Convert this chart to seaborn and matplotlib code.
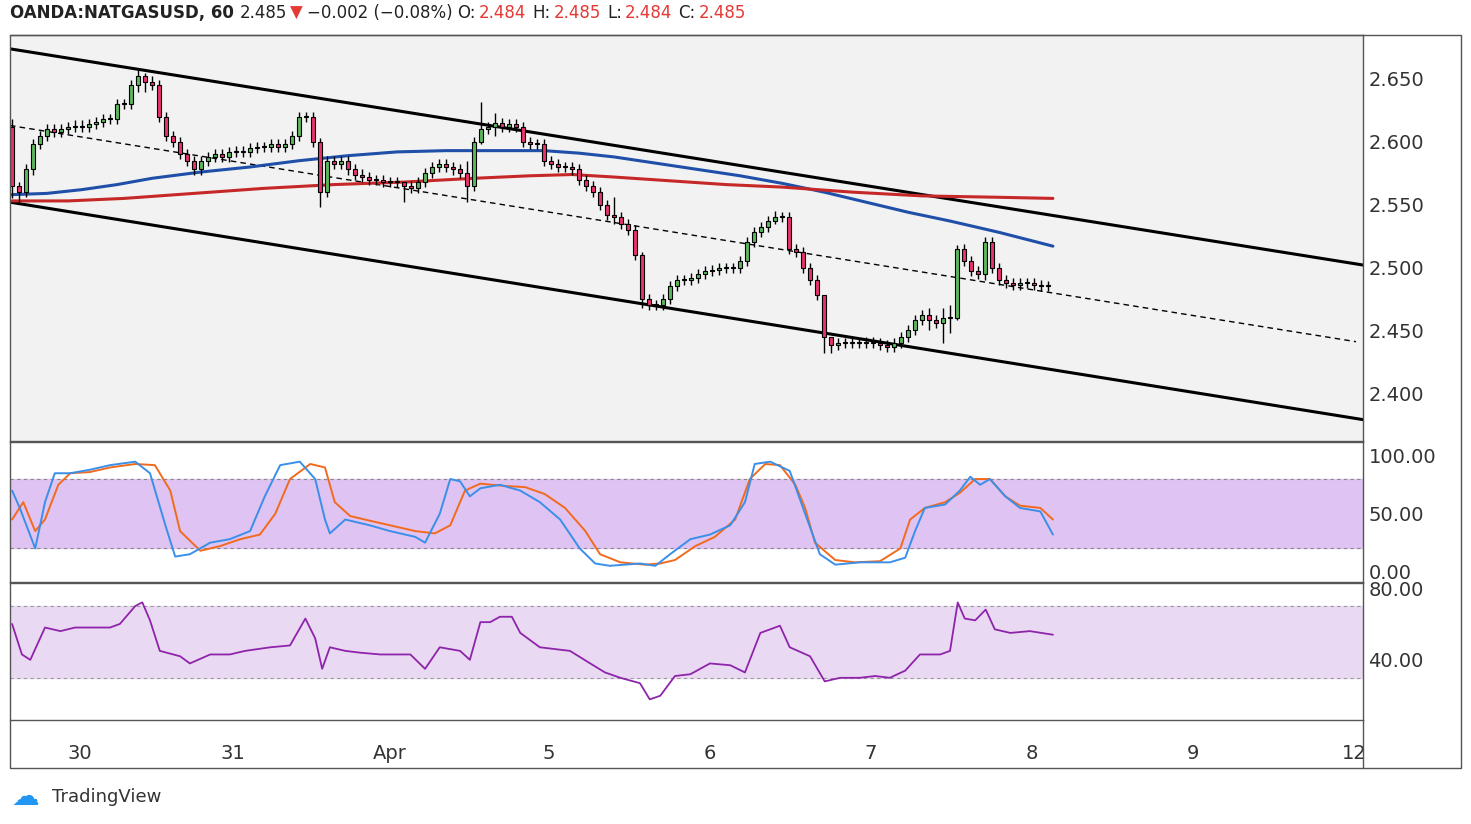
import numpy as np
import pandas as pd
import matplotlib
matplotlib.use("Agg")
import matplotlib.pyplot as plt
import seaborn as sns

sns.set_style("white")
plt.rcParams['font.family'] = ['DejaVu Sans']

first_open = 2.612
closes = [2.565,2.560,2.578,2.598,2.605,2.610,2.608,2.610,2.612,2.613,2.612,2.614,2.616,2.618,2.618,2.630,2.630,2.645,2.652,2.648,
          2.645,2.620,2.605,2.600,2.590,2.585,2.578,2.585,2.588,2.590,2.588,2.592,2.593,2.592,2.595,2.596,2.596,2.598,2.596,2.598,
          2.605,2.620,2.620,2.600,2.560,2.585,2.582,2.585,2.578,2.574,2.572,2.570,2.570,2.568,2.568,2.568,2.565,2.563,2.568,2.575,
          2.580,2.582,2.580,2.578,2.575,2.565,2.600,2.610,2.612,2.615,2.612,2.614,2.612,2.600,2.598,2.598,2.585,2.582,2.580,2.580,
          2.578,2.570,2.565,2.560,2.550,2.542,2.540,2.535,2.530,2.510,2.475,2.470,2.470,2.475,2.485,2.490,2.490,2.492,2.495,2.497,
          2.498,2.500,2.500,2.500,2.505,2.520,2.528,2.532,2.537,2.540,2.540,2.515,2.512,2.500,2.490,2.478,2.445,2.438,2.440,2.440,
          2.440,2.440,2.441,2.440,2.438,2.437,2.440,2.445,2.450,2.458,2.462,2.458,2.456,2.460,2.460,2.515,2.505,2.497,2.495,2.520,
          2.500,2.490,2.488,2.486,2.488,2.488,2.486,2.485,2.485]
big_wicks = {0: (2.618, 2.555), 1: (2.568, 2.552), 18: (2.658, 2.640), 19: (2.655, 2.640), 44: (2.603, 2.548),
             65: (2.585, 2.552), 56: (2.568, 2.552), 67: (2.632, 2.598), 69: (2.623, 2.605), 86: (2.556, 2.535),
             90: (2.512, 2.468), 109: (2.545, 2.535), 116: (2.478, 2.432), 117: (2.445, 2.432), 131: (2.468, 2.45),
             133: (2.468, 2.440), 134: (2.47, 2.448), 135: (2.518, 2.458), 139: (2.524, 2.49)}
wick_size = 0.004

ma_blue_x = [0, 5, 10, 15, 20, 27, 34, 41, 48, 55, 62, 70, 76, 81, 86, 92, 98, 104, 110, 116, 122, 128, 134, 141, 148.7]
ma_blue_y = [2.558, 2.559, 2.562, 2.566, 2.571, 2.576, 2.580, 2.585, 2.589, 2.592, 2.593, 2.593, 2.593, 2.591, 2.588, 2.583,
             2.578, 2.573, 2.567, 2.560, 2.552, 2.544, 2.537, 2.528, 2.517]
ma_red_x = [0, 8, 16, 26, 36, 46, 56, 66, 74, 80, 86, 94, 102, 110, 120, 130, 140, 148.7]
ma_red_y = [2.553, 2.553, 2.555, 2.559, 2.563, 2.566, 2.568, 2.571, 2.573, 2.574, 2.572, 2.569, 2.566, 2.564, 2.560, 2.557, 2.556, 2.555]

chan_x = [-0.3, 193]
upper_y = [2.674, 2.502]
lower_y = [2.552, 2.379]
mid_x = [-0.3, 192]
mid_y = [2.613, 2.441]

k_x = [0,1.1,3.3,4.7,6.1,8.3,11.1,14,17.6,19.7,21.9,23.3,25.4,28.3,31.1,34,36.1,38.3,41.1,43.3,44.7,45.4,47.6,51.1,54,57.6,59,61.1,62.6,64,65.4,66.9,69.7,72.6,75.4,78.3,81.1,83.3,85.4,89.7,91.9,94,96.9,99.7,102.6,104.7,106.1,108.3,111.1,113.3,115.4,117.6,121.1,125.4,127.6,129,130.4,133.3,135.4,136.9,138.3,139.7,141.9,144,146.9,148.7]
k_y = [70,55,20,60,85,85,88,92,95,85,40,13,15,25,28,35,65,92,95,80,45,33,45,40,35,30,25,50,80,78,65,72,75,70,60,45,20,7,5,7,5,15,28,32,40,60,93,95,87,50,15,6,8,8,12,35,55,58,70,82,75,80,65,55,52,32]
d_x = [0,1.6,3.3,4.7,6.6,8.3,11.1,14,17.6,20.4,22.6,24,26.9,29.7,32.6,35.4,37.6,39.7,42.6,44.7,46.1,48.3,51.1,54,57.6,60.4,62.6,64.7,66.9,70.4,73.3,76.1,79,81.9,84,86.9,90.4,92.6,94.7,97.6,100.4,103.3,105.4,107.6,109.7,111.9,113.3,114.7,117.6,120.4,124,126.9,128.3,130.4,133.3,135.4,137.6,139.7,141.9,144,146.9,148.7]
d_y = [45,60,35,45,75,85,86,90,93,92,70,35,18,22,28,32,50,80,93,90,60,48,44,40,35,33,40,70,76,74,73,67,55,35,15,8,6,7,10,22,30,45,80,93,92,75,55,25,10,8,9,20,45,55,60,68,80,80,65,57,55,45]
rsi_x = [0,1.4,2.6,4.7,6.9,9,14,15.4,17.6,18.6,19.7,21.1,24,25.4,28.3,31.1,33.3,36.9,39.7,41.9,43.3,44.3,45.4,47.6,49.7,52.6,56.9,59,61.1,64,65.4,66.9,68.3,69.7,71.4,72.6,75.4,79.7,82.6,84.7,86.9,89.7,91.1,92.6,94.7,96.9,99.7,102.6,104.7,106.9,109.7,111.1,114,116.1,118.3,121.1,123.3,125.4,127.6,129.7,132.6,134,135.1,136.1,137.6,139.1,140.4,142.6,145.4,148.7]
rsi_y = [60,43,40,58,56,58,58,60,70,72,62,45,42,38,43,43,45,47,48,63,52,35,47,45,44,43,43,35,47,45,40,61,61,64,64,55,47,45,38,33,30,27,18,20,31,32,38,37,33,55,59,47,42,28,30,30,31,30,34,43,43,45,72,63,62,68,57,55,56,54]

tick_pos = [9.71, 31.6, 53.9, 76.7, 99.7, 122.7, 145.7, 168.7, 191.7]
tick_lab = ["30", "31", "Apr", "5", "6", "7", "8", "9", "12"]

W, H = 1471, 824
fig = plt.figure(figsize=(W/100, H/100), dpi=100)
fig.patch.set_facecolor("white")
def fx(px): return px / W
def fy(py): return 1 - py / H

ax = fig.add_axes([fx(10), fy(441), fx(1353), (441-35)/H])
ax2 = fig.add_axes([fx(10), fy(582), fx(1353), (582-442)/H])
ax3 = fig.add_axes([fx(10), fy(720), fx(1353), (720-583)/H])
xl = (-0.3, 193.0)
for a in (ax, ax2, ax3):
    a.set_xlim(*xl)
    a.yaxis.tick_right()
    a.tick_params(axis='y', length=0, labelsize=14, labelcolor="#333333", pad=4)
    for s in a.spines.values():
        s.set_color("#555555"); s.set_linewidth(1)
    a.spines['left'].set_visible(False)
    a.set_xticks(tick_pos)
    a.tick_params(axis='x', labelbottom=False, length=0)

ax.set_facecolor("#f2f2f2")
opens = [first_open] + closes[:-1]
for i, (o, c) in enumerate(zip(opens, closes)):
    hi, lo = big_wicks.get(i, (max(o, c) + wick_size, min(o, c) - wick_size))
    ax.vlines(i, lo, hi, color="black", lw=1, zorder=3)
    col = "#5cb85c" if c >= o else "#e8336d"
    h = abs(c - o) if abs(c - o) > 0.0008 else 0.0008
    ax.bar(i, h, bottom=min(o, c), width=0.6, color=col, edgecolor="black", lw=0.8, zorder=4)

sns.lineplot(x=chan_x, y=upper_y, ax=ax, color="black", lw=2.2)
sns.lineplot(x=chan_x, y=lower_y, ax=ax, color="black", lw=2.2)
sns.lineplot(x=mid_x, y=mid_y, ax=ax, color="black", lw=1, linestyle=(0, (4, 3)))
sns.lineplot(x=ma_blue_x, y=ma_blue_y, ax=ax, color="#1f4fa8", lw=2.2)
sns.lineplot(x=ma_red_x, y=ma_red_y, ax=ax, color="#c62828", lw=2.2)
ax.set_ylim(2.362, 2.685)
ax.set_yticks([2.40, 2.45, 2.50, 2.55, 2.60, 2.65])
ax.set_yticklabels(["2.400", "2.450", "2.500", "2.550", "2.600", "2.650"])

ax2.set_facecolor("white")
ax2.axhspan(20, 80, color="#dfc3f2", zorder=0)
ax2.axhline(80, color="#888888", lw=0.8, ls=(0, (3, 3)))
ax2.axhline(20, color="#888888", lw=0.8, ls=(0, (3, 3)))
sns.lineplot(x=d_x, y=d_y, ax=ax2, color="#f26b1d", lw=1.4)
sns.lineplot(x=k_x, y=k_y, ax=ax2, color="#3a8fe8", lw=1.4)
ax2.set_ylim(-9, 112)
ax2.set_yticks([0, 50, 100])
ax2.set_yticklabels(["0.00", "50.00", "100.00"])

ax3.axhspan(30, 70, color="#ead9f3", zorder=0)
ax3.axhline(70, color="#999999", lw=0.8, ls=(0, (3, 3)))
ax3.axhline(30, color="#999999", lw=0.8, ls=(0, (3, 3)))
sns.lineplot(x=rsi_x, y=rsi_y, ax=ax3, color="#8e24aa", lw=1.3)
ax3.set_ylim(6.5, 82.8)
ax3.set_yticks([40, 80])
ax3.set_yticklabels(["40.00", "80.00"])
ax3.tick_params(axis='x', labelbottom=True, length=5, direction='out', labelsize=14,
                labelcolor="#333333", pad=12, color="#555555")
ax3.set_xticklabels(tick_lab)

for a in (ax, ax2, ax3):
    a.set_xlabel(""); a.set_ylabel("")

fig.add_artist(plt.Rectangle((fx(10), fy(768)), fx(1451), (768-35)/H, transform=fig.transFigure,
                             fill=False, edgecolor="#555555", lw=1))
fig.add_artist(plt.Line2D([fx(1363), fx(1363)], [fy(768), fy(720)], transform=fig.transFigure, color="#555555", lw=1))

header = [("OANDA:NATGASUSD, 60", "#222222", "bold", 6), ("2.485", "#222222", "normal", 3),
          ("▼", "#e53935", "normal", 4), ("−0.002 (−0.08%)", "#222222", "normal", 5),
          ("O:", "#222222", "normal", 3), ("2.484", "#e53935", "normal", 6),
          ("H:", "#222222", "normal", 3), ("2.485", "#e53935", "normal", 6),
          ("L:", "#222222", "normal", 3), ("2.484", "#e53935", "normal", 6),
          ("C:", "#222222", "normal", 3), ("2.485", "#e53935", "normal", 6)]
renderer = fig.canvas.get_renderer()
cur = 10
for t, col, wt, gap in header:
    txt = fig.text(fx(cur), fy(13), t, fontsize=12, fontweight=wt, color=col, va="center",
                   family=["DejaVu Sans"])
    bb = txt.get_window_extent(renderer)
    cur += bb.width + gap
fig.text(fx(52), fy(797), "TradingView", fontsize=13, color="#333333", va="center")
fig.text(fx(12), fy(797), "☁", fontsize=20, color="#2196f3", va="center")

fig.savefig("out.png", dpi=100)
